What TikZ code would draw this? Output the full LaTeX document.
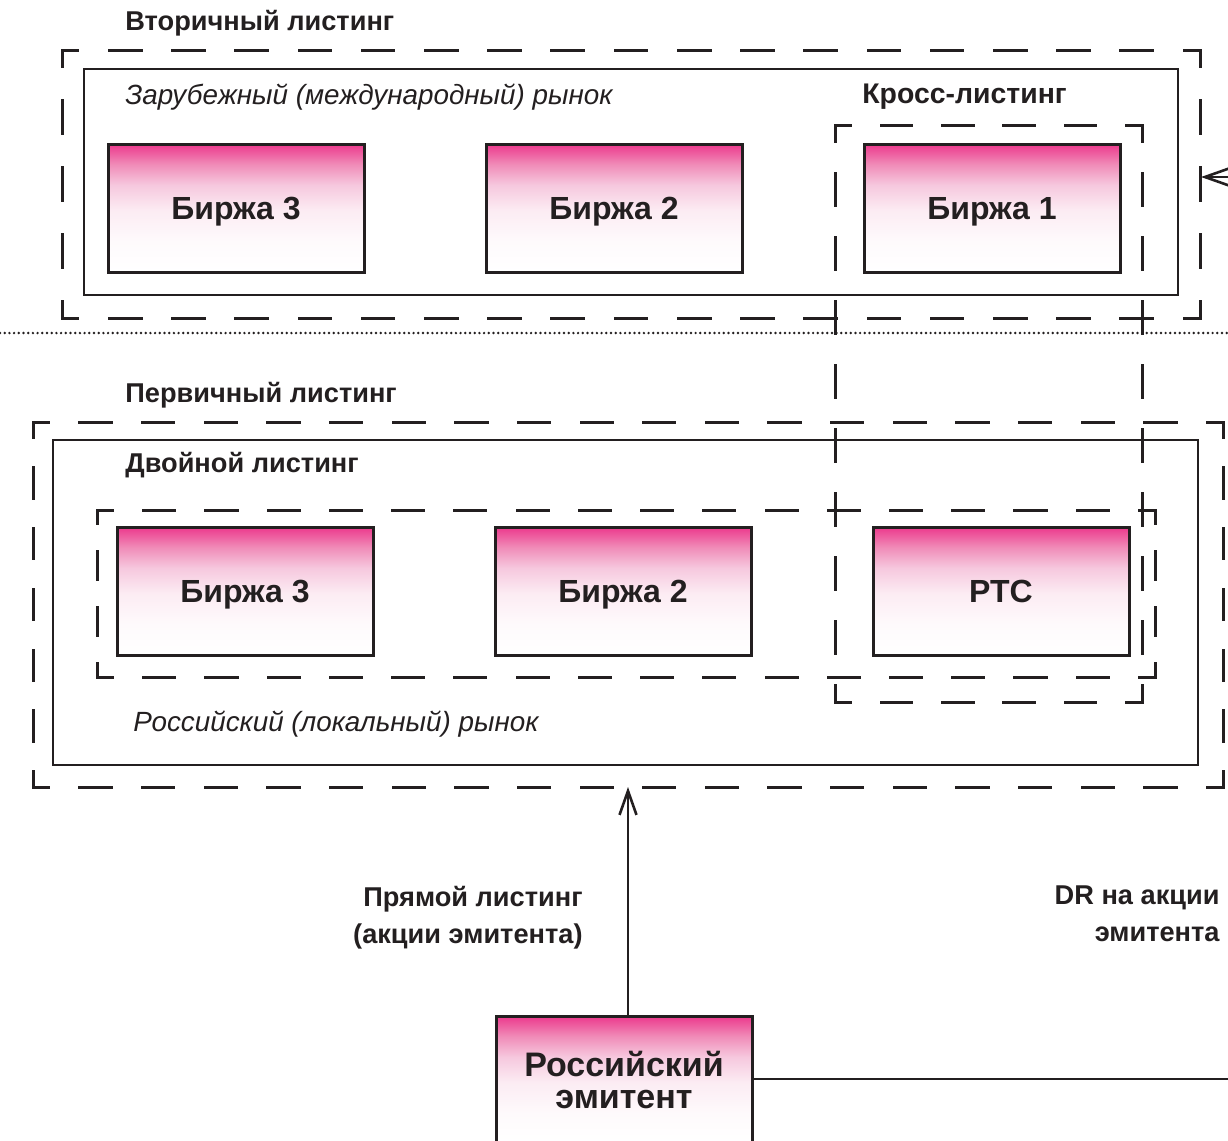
\documentclass[tikz,border=0pt]{standalone}
\usepackage{fontspec}
\setmainfont{Liberation Sans}
\usetikzlibrary{arrows.meta}

\definecolor{ink}{RGB}{35,31,32}
\definecolor{pkA}{RGB}{236,56,140}
\definecolor{pkB}{RGB}{240,140,184}
\definecolor{pkC}{RGB}{246,200,222}
\definecolor{pkD}{RGB}{252,236,243}
\definecolor{pkE}{RGB}{254,250,252}

% pink-to-white fill of the exchange boxes (path maps to 25bp..75bp)
\pgfdeclareverticalshading{exshade}{100bp}{%
  color(0bp)=(white); color(25bp)=(white); color(37bp)=(pkE);
  color(49bp)=(pkD); color(59bp)=(pkC); color(67bp)=(pkB);
  color(75bp)=(pkA); color(100bp)=(pkA)}

\tikzset{
  shadedbox/.style={draw=ink, line width=1.5pt, shading=exshade,
    minimum width=128pt, minimum height=64pt, inner sep=0pt,
    text=ink, align=center},
  exbox/.style={shadedbox, font=\fontsize{16}{17}\selectfont\bfseries,
    text height=11.5pt, text depth=0pt},
  issuerbox/.style={shadedbox, font=\fontsize{17}{16}\selectfont\bfseries},
  frame/.style={draw=ink, line width=1.45pt},
  dashline/.style={draw=ink, line width=1.5pt, line cap=rect},
  dotline/.style={draw=ink, line width=1.35pt, line cap=round,
    dash pattern=on 0pt off 2.35pt},
  seclabel/.style={font=\fontsize{13.6}{16}\selectfont\bfseries, text=ink,
    inner sep=0pt, anchor=west},
  mktlabel/.style={font=\fontsize{13.9}{16}\selectfont\itshape, text=ink,
    inner sep=0pt, anchor=west},
  flowlabel/.style={font=\fontsize{13.6}{18.5}\selectfont\bfseries, text=ink,
    inner sep=0pt, align=right, anchor=east},
  conn/.style={draw=ink, line width=1.4pt},
  tip/.style={-{Straight Barb[length=12pt, width=8.5pt, line width=1.3pt]}}
}

% one side of a dashed frame, dashes aligned to both corners
\newcommand\dashside[4]{%
  \pgfmathsetmacro\sidelen{veclen(#3-#1,#4-#2)}%
  \pgfmathsetmacro\sidecount{max(1,round(\sidelen/62))}%
  \pgfmathsetmacro\halfper{\sidelen/\sidecount/4}%
  \pgfmathsetmacro\quarterper{\halfper/2}%
  \draw[dashline, dash pattern=on \halfper pt off \halfper pt,
        dash phase=\quarterper pt] (#1,#2) -- (#3,#4);%
}
\newcommand\dashframe[4]{%
  \dashside{#1}{#2}{#3}{#2}%
  \dashside{#3}{#2}{#3}{#4}%
  \dashside{#3}{#4}{#1}{#4}%
  \dashside{#1}{#4}{#1}{#2}%
}

\begin{document}
\begin{tikzpicture}[x=0.5pt, y=-0.5pt]
\useasboundingbox (0,0) rectangle (1228,1141);
\clip (0,0) rectangle (1228,1141);
\fill[white] (0,0) rectangle (1228,1141);

% ---- secondary listing (foreign market) ----
\node[seclabel] (secT) at (125,23) {Вторичный листинг};
\dashframe{62}{50}{1200}{318}
\draw[frame] (84,69) rectangle (1178,295);
\node[mktlabel] (forT) at (125,97) {Зарубежный (международный) рынок};
\node[seclabel, font=\fontsize{14.2}{16}\selectfont\bfseries] (crossT) at (862,97) {Кросс-листинг};

% cross-listing frame spans both markets
\dashframe{835}{125}{1142}{702}

\node[exbox] (f3) at (236,208) {Биржа 3};
\node[exbox] (f2) at (614,208) {Биржа 2};
\node[exbox] (f1) at (992,208) {Биржа 1};

% boundary between the markets
\draw[dotline] (0,333) -- (1228,333);

% ---- primary listing (local market) ----
\node[seclabel] (priT) at (125,395) {Первичный листинг};
\dashframe{33}{422}{1223}{787}
\draw[frame] (53,440) rectangle (1198,765);
\node[seclabel] (dualT) at (125,465) {Двойной листинг};
\dashframe{97}{510}{1155}{677}
\node[mktlabel] (locT) at (133,724) {Российский (локальный) рынок};

\node[exbox] (l3) at (245,591) {Биржа 3};
\node[exbox] (l2) at (623,591) {Биржа 2};
\node[exbox] (l1) at (1001,591) {РТС};

% ---- issuer and its routes ----
\node[issuerbox] (emit) at (624,1080) {Российский\\эмитент};

\coordinate (priIn) at (628,787);
\draw[conn, tip] (emit.north -| priIn) -- (priIn);
\node[flowlabel] (directT) at (583,918) {Прямой листинг\\(акции эмитента)};

\coordinate (drOut) at (1228,1079);
\draw[conn] (emit.east |- drOut) -- (drOut);
\node[flowlabel] (drT) at (1220,914) {DR на акции\\эмитента};

\coordinate (secIn) at (1201,177);
\coordinate (secFrom) at (1228,177);
\draw[conn, tip] (secFrom) -- (secIn);
\end{tikzpicture}
\end{document}
